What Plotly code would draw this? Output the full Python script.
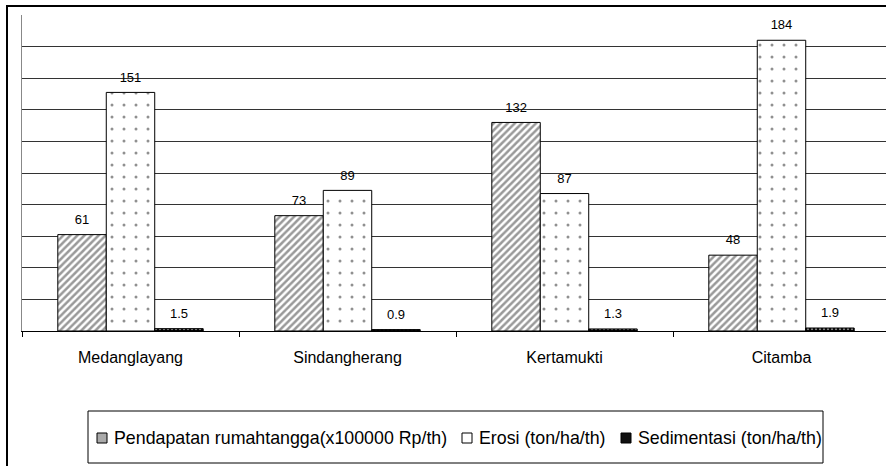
import plotly.graph_objects as go

categories = ["Medanglayang", "Sindangherang", "Kertamukti", "Citamba"]
pendapatan = [61, 73, 132, 48]
erosi = [151, 89, 87, 184]
sedimentasi = [1.5, 0.9, 1.3, 1.9]
series_names = ["Pendapatan rumahtangga(x100000 Rp/th)", "Erosi (ton/ha/th)", "Sedimentasi (ton/ha/th)"]

FONT = "Liberation Sans, Arial, sans-serif"

W, H = 886, 466
L, T = 22, 15
plot_w, plot_h = W - L, 316


def px_x(p):
    return (p - L) / plot_w


def px_y(p):
    return (T + plot_h - p) / plot_h


fills = [
    dict(color="white", line=dict(color="black", width=1),
         pattern=dict(shape="/", size=5, solidity=0.5, fgcolor="#333", bgcolor="white")),
    dict(color="white", line=dict(color="black", width=1),
         pattern=dict(shape=".", size=12, solidity=0.05, fgcolor="#222", bgcolor="white")),
    dict(color="black", line=dict(color="black", width=1),
         pattern=dict(shape=".", size=4, solidity=0.3, fgcolor="white", bgcolor="black")),
]

fig = go.Figure()
for name, vals, mk in zip(series_names, [pendapatan, erosi, sedimentasi], fills):
    fig.add_trace(go.Bar(x=categories, y=vals, name=name, marker=mk, showlegend=False))
# value labels (grouped scatter aligned with the grouped bars)
for name, vals in zip(series_names, [pendapatan, erosi, sedimentasi]):
    fig.add_trace(go.Scatter(
        x=categories, y=vals, name=name, mode="markers+text",
        text=[str(v) for v in vals], textposition="top center",
        textfont=dict(family=FONT, size=13, color="black"),
        marker=dict(size=10.6, color="rgba(0,0,0,0)"),
        cliponaxis=False, showlegend=False, hoverinfo="skip",
    ))

# outer chart border
fig.add_shape(type="rect", xref="paper", yref="paper",
              x0=px_x(7), x1=px_x(900), y0=px_y(480), y1=px_y(6),
              line=dict(color="black", width=2), fillcolor="rgba(0,0,0,0)", layer="above")

# legend box (custom, drawn to match the reference layout)
LEG_FONT = 17.8
fig.add_shape(type="rect", xref="paper", yref="paper",
              x0=px_x(88), x1=px_x(823), y0=px_y(463), y1=px_y(411),
              line=dict(color="black", width=1), fillcolor="white", layer="above")
swatch_x = [97, 462, 621]
swatch_fill = ["#aaaaaa", "white", "#111111"]
for sx, fc, name in zip(swatch_x, swatch_fill, series_names):
    fig.add_shape(type="rect", xref="paper", yref="paper",
                  x0=px_x(sx), x1=px_x(sx + 10), y0=px_y(443), y1=px_y(433),
                  line=dict(color="black", width=1), fillcolor=fc, layer="above")
    fig.add_annotation(xref="paper", yref="paper", x=px_x(sx + 15), y=px_y(438),
                       xanchor="left", yanchor="middle", showarrow=False, text=name,
                       font=dict(family=FONT, size=LEG_FONT, color="black"))

fig.update_layout(
    width=W, height=H,
    margin=dict(l=L, r=0, t=T, b=H - T - plot_h, autoexpand=False),
    paper_bgcolor="white", plot_bgcolor="white",
    barmode="group", bargap=0.33, bargroupgap=0,
    scattermode="group", scattergap=0.33,
    font=dict(family=FONT, size=16, color="black"),
    showlegend=False,
    xaxis=dict(range=[-0.5, -0.5 + plot_w / 217], showgrid=False,
               showline=True, linecolor="black", linewidth=1,
               ticks="outside", ticklen=5, tickcolor="black", tickson="boundaries",
               tickfont=dict(family=FONT, size=16, color="black"), ticklabelstandoff=12),
    yaxis=dict(range=[0, 200], dtick=20, showticklabels=False,
               showgrid=True, gridcolor="#333", gridwidth=1,
               showline=True, linecolor="#888", linewidth=1, zeroline=False, ticks=""),
)

fig.write_html("out.html", config={"displayModeBar": False},
               post_script="document.body.style.margin='0';")
